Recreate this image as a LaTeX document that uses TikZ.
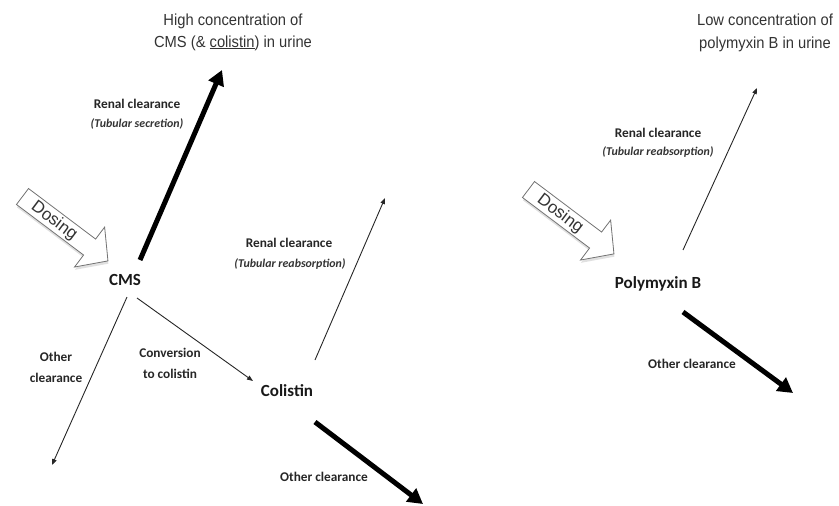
\documentclass[tikz,border=0pt]{standalone}
\usepackage{fontspec}
\setmainfont{Carlito}
\newfontfamily\titlefont[FakeStretch=0.92]{Liberation Sans}
\newfontfamily\dosefont{Liberation Sans}
\usetikzlibrary{arrows.meta}
\begin{document}
\begin{tikzpicture}[x=1pt,y=-1pt,
  lbl/.style={font=\bfseries\fontsize{13.3}{21}\selectfont, align=center, text=black!85, inner sep=0pt},
  sub/.style={font=\bfseries\itshape\fontsize{11.9}{13}\selectfont, text=black!80, inner sep=0pt},
  drug/.style={font=\bfseries\fontsize{17}{20}\selectfont, text=black!90, inner sep=0pt},
  ttl/.style={font=\titlefont\fontsize{16}{22}\selectfont, text=black!80, inner sep=0pt, anchor=base},
  thickarr/.style={line width=5pt, -{Triangle[length=15pt,width=16pt]}},
  thinarr/.style={line width=0.9pt, black!85, -{Triangle[length=6pt,width=4.5pt]}},
  doseshape/.style={draw=black!55, line width=0.8pt, fill=white},
  doseshadow/.style={fill=black!12},
  dosetext/.style={font=\dosefont\fontsize{17}{20}\selectfont, text=black!80, inner sep=0pt, anchor=base},
]
\useasboundingbox (0,0) rectangle (839,506);

% titles
\node[ttl] (t1a) at (233,25) {High concentration of};
\node[ttl] (t1b) at (233,47) {CMS (\& \underline{colistin}) in urine};
\node[ttl] (t2a) at (765,25) {Low concentration of};
\node[ttl] (t2b) at (765,48) {polymyxin B in urine};

% dosing arrows
\foreach \tx/\ty/\nm in {22.5/196.5/doseL, 528.5/189.5/doseR}{
  \begin{scope}[shift={(\tx,\ty)}, rotate=-37]
    \fill[doseshadow] (2,-8) -- (86,-8) -- (86,-23) -- (109,2) -- (86,27) -- (86,12) -- (2,12) -- cycle;
    \draw[doseshape] (0,-10) -- (84,-10) -- (84,-25) -- (107,0) -- (84,25) -- (84,10) -- (0,10) -- cycle;
    \node[dosetext, rotate=-37] (\nm) at (40,5) {Dosing};
  \end{scope}
}

% drug nodes
\node[drug] (cms) at (125,280) {CMS};
\node[drug] (col) at (287,391) {Colistin};
\node[drug] (pmb) at (658,284) {Polymyxin B};

% labels
\node[lbl] (rc1) at (137,104) {Renal clearance};
\node[sub] (ts1) at (137,124) {(Tubular secretion)};
\node[lbl] (oc1) at (56,367) {Other\\clearance};
\node[lbl] (cv) at (170,363) {Conversion\\to colistin};
\node[lbl] (rc2) at (289,243) {Renal clearance};
\node[sub] (tr2) at (290,264) {(Tubular reabsorption)};
\node[lbl] (oc2) at (324,477) {Other clearance};
\node[lbl] (rc3) at (658,133) {Renal clearance};
\node[sub] (tr3) at (658,152) {(Tubular reabsorption)};
\node[lbl] (oc3) at (692,364) {Other clearance};

% arrow ends
\coordinate (a1s) at (140,260); \coordinate (a1e) at (222,70);
\coordinate (a2s) at (127,297); \coordinate (a2e) at (52,465);
\coordinate (a3s) at (137,298); \coordinate (a3e) at (253,381);
\coordinate (a4s) at (315,360); \coordinate (a4e) at (385,198);
\coordinate (a5s) at (315,422); \coordinate (a5e) at (423,504);
\coordinate (a6s) at (683,250); \coordinate (a6e) at (757,88);
\coordinate (a7s) at (683,312); \coordinate (a7e) at (793,393);

\draw[thickarr] (a1s) -- (a1e);
\draw[thinarr] (a2s) -- (a2e);
\draw[thinarr] (a3s) -- (a3e);
\draw[thinarr] (a4s) -- (a4e);
\draw[thickarr] (a5s) -- (a5e);
\draw[thinarr] (a6s) -- (a6e);
\draw[thickarr] (a7s) -- (a7e);
\end{tikzpicture}
\end{document}
